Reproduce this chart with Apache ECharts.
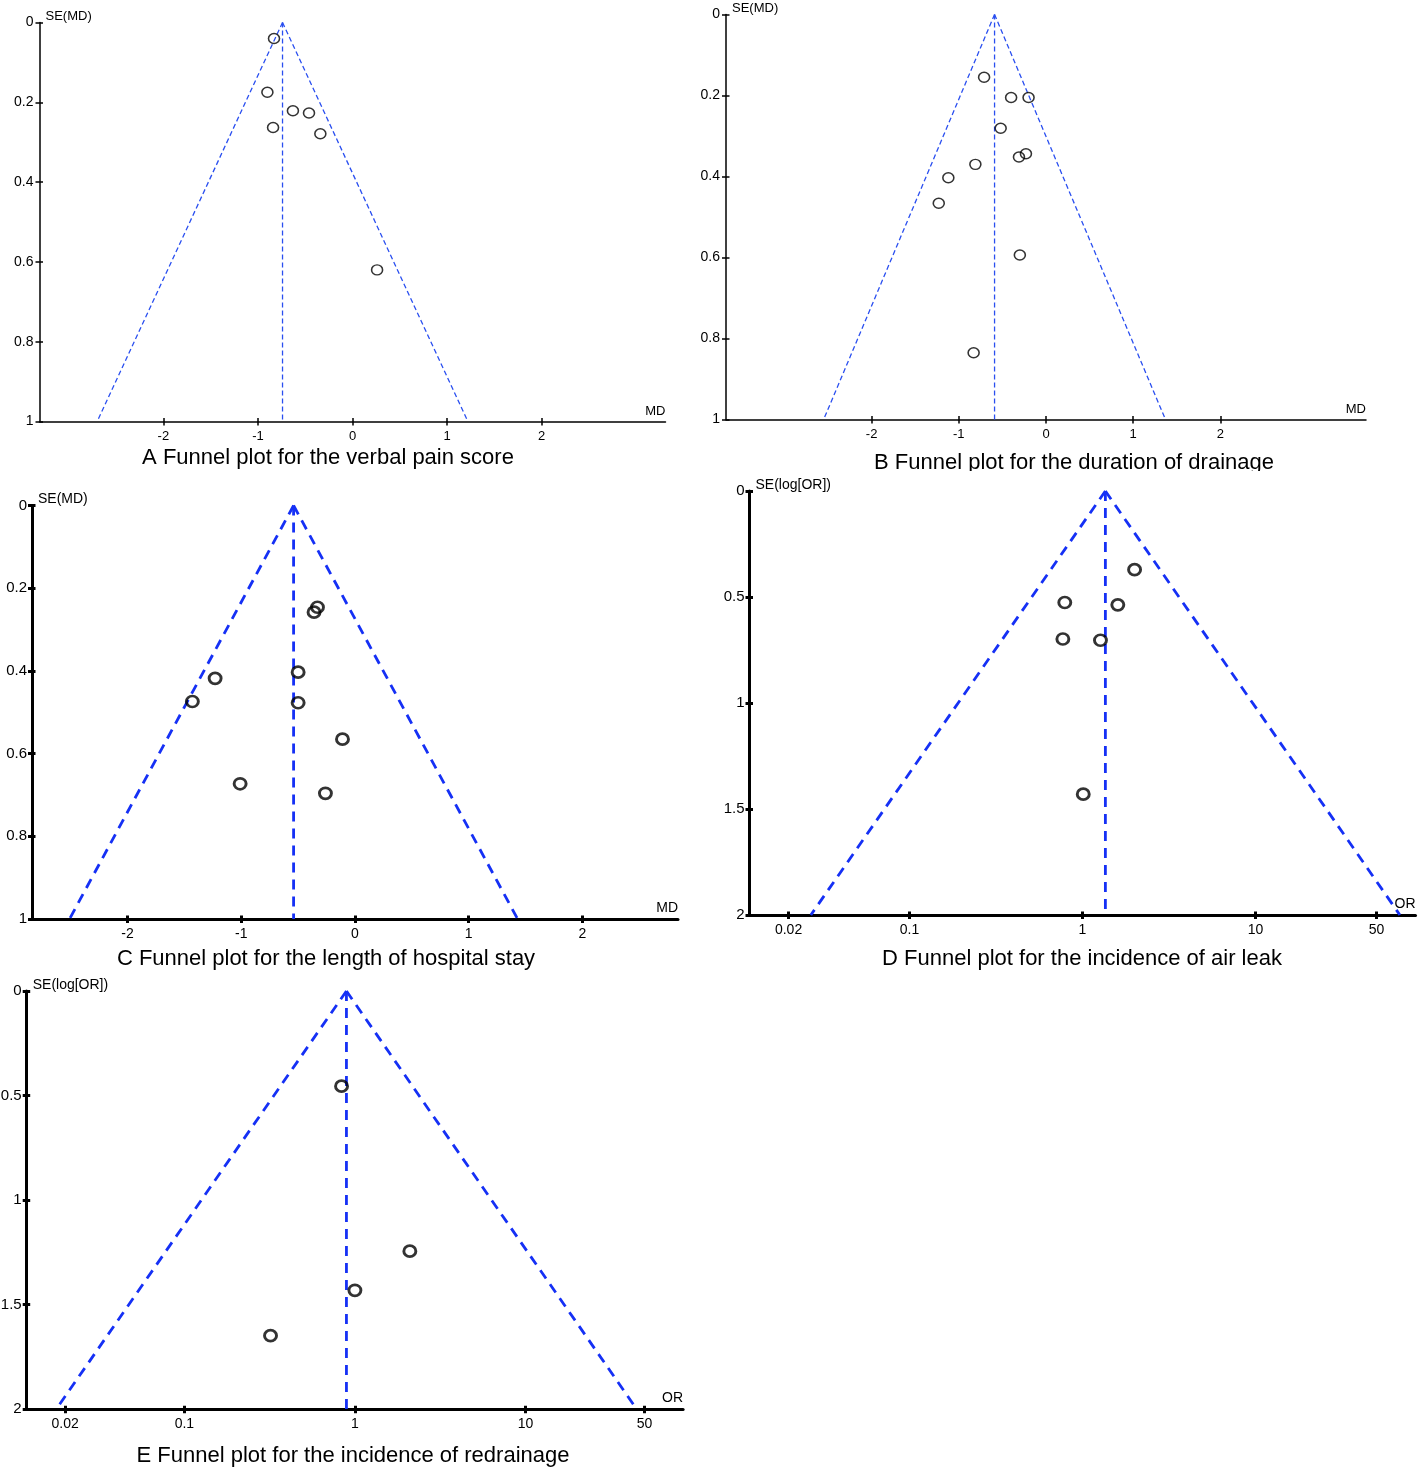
<!DOCTYPE html>
<html>
<head>
<meta charset="utf-8">
<script src="https://cdn.jsdelivr.net/npm/echarts@6/dist/echarts.min.js"></script>
<style>
html,body{margin:0;padding:0;background:#fff;}
#chart{width:1418px;height:1469px;}
</style>
</head>
<body>
<div id="chart"></div>
<script>
// ---------------- DATA ----------------
// Panel A: verbal pain score (MD vs SE(MD))
const aMD = [-0.83, -0.90, -0.63, -0.46, -0.84, -0.34, 0.26];
const aSE = [0.040, 0.175, 0.221, 0.227, 0.263, 0.279, 0.620];
const aPooled = -0.74;
const aFunnelBottom = [-2.70, 1.22];
const aXExtent = [-3.31, 3.31];

// Panel B: duration of drainage
const bMD = [-0.71, -0.40, -0.20, -0.52, -0.23, -0.31, -0.81, -1.12, -1.23, -0.30, -0.83];
const bSE = [0.155, 0.205, 0.205, 0.281, 0.344, 0.352, 0.370, 0.403, 0.466, 0.594, 0.835];
const bPooled = -0.59;
const bFunnelBottom = [-2.55, 1.37];
const bXExtent = [-3.67, 3.67];

// Panel C: length of hospital stay
const cMD = [-0.33, -0.36, -0.50, -1.23, -1.43, -0.50, -0.11, -1.01, -0.26];
const cSE = [0.246, 0.258, 0.403, 0.418, 0.474, 0.477, 0.565, 0.673, 0.696];
const cPooled = -0.54;
const cFunnelBottom = [-2.51, 1.43];
const cXExtent = [-2.84, 2.84];

// Panel D: incidence of air leak (OR vs SE(log[OR]))
const dOR = [2.00, 0.79, 1.60, 0.77, 1.27, 1.01];
const dSE = [0.371, 0.526, 0.537, 0.698, 0.704, 1.430];
const dPooled = 1.356;
const dFunnelBottom = [0.0269, 68.3];
const dXExtent = [0.01189, 84.1];

// Panel E: incidence of redrainage
const eOR = [0.835, 2.10, 1.00, 0.32];
const eSE = [0.455, 1.244, 1.431, 1.648];
const ePooled = 0.892;
const eFunnelBottom = [0.0177, 45.0];
const eXExtent = [0.01189, 84.1];

// Tick labels
const mdTicks = [-2, -1, 0, 1, 2];
const orTicks = [0.02, 0.1, 1, 10, 50];
const orTickLabels = ['0.02', '0.1', '1', '10', '50'];
const seTicksMD = [0, 0.2, 0.4, 0.6, 0.8, 1];
const seTicksOR = [0, 0.5, 1, 1.5, 2];

const titleA = 'A Funnel plot for the verbal pain score';
const titleB = 'B Funnel plot for the duration of drainage';
const titleC = 'C Funnel plot for the length of hospital stay';
const titleD = 'D Funnel plot for the incidence of air leak';
const titleE = 'E Funnel plot for the incidence of redrainage';

// ---------------- LAYOUT / STYLE ----------------
const FONT = '"Liberation Sans", Arial, Helvetica, sans-serif';
const layoutA = {left: 39.5, top: 22.5, width: 626, height: 399, titleX: 328, titleY: 458};
const layoutB = {left: 726, top: 14.5, width: 640, height: 405, titleX: 1074, titleY: 463};
const layoutC = {left: 32, top: 505.5, width: 646, height: 413.5, titleX: 326, titleY: 959};
const layoutD = {left: 749.5, top: 491, width: 666, height: 424, titleX: 1082, titleY: 959};
const layoutE = {left: 26.7, top: 991, width: 656.4, height: 418.3, titleX: 353, titleY: 1456};

const thinStyle = {axisW: 1.5, lineW: 1.3, dash: [5, 3], blue: '#2a4ff0', symW: 1.5, sym: [11, 10], xLabel: 13, yLabel: 14, yMargin: 6, name: 13};
const thickStyle = {axisW: 3, lineW: 2.8, dash: [10, 7], blue: '#1530f5', symW: 2.8, sym: [12, 11], xLabel: 14, yLabel: 15, yMargin: 5, name: 14};

const panels = [
  {xs: aMD, ys: aSE, pooled: aPooled, bottom: aFunnelBottom, xExt: aXExtent, seMax: 1, seTicks: seTicksMD, log: false, yName: 'SE(MD)', xName: 'MD', title: titleA, lay: layoutA, st: thinStyle},
  {xs: bMD, ys: bSE, pooled: bPooled, bottom: bFunnelBottom, xExt: bXExtent, seMax: 1, seTicks: seTicksMD, log: false, yName: 'SE(MD)', xName: 'MD', title: titleB, lay: layoutB, st: thinStyle},
  {xs: cMD, ys: cSE, pooled: cPooled, bottom: cFunnelBottom, xExt: cXExtent, seMax: 1, seTicks: seTicksMD, log: false, yName: 'SE(MD)', xName: 'MD', title: titleC, lay: layoutC, st: thickStyle},
  {xs: dOR, ys: dSE, pooled: dPooled, bottom: dFunnelBottom, xExt: dXExtent, seMax: 2, seTicks: seTicksOR, log: true, yName: 'SE(log[OR])', xName: 'OR', title: titleD, lay: layoutD, st: thickStyle},
  {xs: eOR, ys: eSE, pooled: ePooled, bottom: eFunnelBottom, xExt: eXExtent, seMax: 2, seTicks: seTicksOR, log: true, yName: 'SE(log[OR])', xName: 'OR', title: titleE, lay: layoutE, st: thickStyle}
];

// ---------------- BUILD OPTION ----------------
const grid = [], xAxis = [], yAxis = [], series = [], title = [];

panels.forEach((p, i) => {
  const st = p.st;
  const tx = p.log ? (v => Math.log10(v)) : (v => v);
  const xTickVals = p.log ? orTicks.map(tx) : mdTicks;
  const xFmt = p.log
    ? (v => { let best = 0, bd = Infinity; orTicks.forEach((t, k) => { const d = Math.abs(Math.log10(t) - v); if (d < bd) { bd = d; best = k; } }); return orTickLabels[best]; })
    : (v => String(Math.round(v)));
  grid.push({left: p.lay.left, top: p.lay.top, width: p.lay.width, height: p.lay.height, containLabel: false, outerBoundsMode: 'none'});

  const xMin = tx(p.xExt[0]), xMax = tx(p.xExt[1]);
  const mainX = xAxis.length;
  xAxis.push({
    gridIndex: i, type: 'value', position: 'bottom', min: xMin, max: xMax,
    axisLine: {show: true, onZero: false, lineStyle: {color: '#000', width: st.axisW}},
    axisTick: {show: true, inside: false, length: 4, customValues: xTickVals, lineStyle: {color: '#000', width: st.axisW}},
    axisLabel: {show: true, customValues: xTickVals, formatter: xFmt, margin: 8, color: '#000', fontSize: st.xLabel, fontFamily: FONT},
    splitLine: {show: false},
    name: p.xName, nameLocation: 'end', nameGap: 0,
    nameTextStyle: {align: 'right', verticalAlign: 'bottom', padding: [0, 0, 4, 0], color: '#000', fontSize: st.name, fontFamily: FONT}
  });
  // inner half of the crossing ticks
  xAxis.push({
    gridIndex: i, type: 'value', position: 'bottom', min: xMin, max: xMax,
    axisLine: {show: false, onZero: false},
    axisTick: {show: true, inside: true, length: 3.5, customValues: xTickVals, lineStyle: {color: '#000', width: st.axisW}},
    axisLabel: {show: false}, splitLine: {show: false}
  });

  const mainY = yAxis.length;
  const yInterval = p.seTicks[1] - p.seTicks[0];
  yAxis.push({
    gridIndex: i, type: 'value', position: 'left', inverse: true, min: 0, max: p.seMax, interval: yInterval,
    axisLine: {show: true, onZero: false, lineStyle: {color: '#000', width: st.axisW}},
    axisTick: {show: true, inside: false, length: 4, lineStyle: {color: '#000', width: st.axisW}},
    axisLabel: {show: true, margin: st.yMargin, color: '#000', fontSize: st.yLabel, fontFamily: FONT},
    splitLine: {show: false},
    name: p.yName, nameLocation: 'start', nameGap: 6,
    nameTextStyle: {align: 'left', verticalAlign: 'middle', padding: [0, 0, 0, 6], color: '#000', fontSize: st.name, fontFamily: FONT}
  });
  yAxis.push({
    gridIndex: i, type: 'value', position: 'left', inverse: true, min: 0, max: p.seMax, interval: yInterval,
    axisLine: {show: false, onZero: false},
    axisTick: {show: true, inside: true, length: 3.5, lineStyle: {color: '#000', width: st.axisW}},
    axisLabel: {show: false}, splitLine: {show: false}
  });

  const lineStyle = {color: st.blue, width: st.lineW, type: st.dash};
  const funnelLines = [
    [[tx(p.pooled), 0], [tx(p.bottom[0]), p.seMax]],
    [[tx(p.pooled), 0], [tx(p.bottom[1]), p.seMax]],
    [[tx(p.pooled), 0], [tx(p.pooled), p.seMax]]
  ];
  funnelLines.forEach(d => {
    series.push({type: 'line', xAxisIndex: mainX, yAxisIndex: mainY, data: d, symbol: 'none', silent: true, clip: false, lineStyle: lineStyle, z: 2});
  });
  series.push({
    type: 'scatter', xAxisIndex: mainX, yAxisIndex: mainY,
    data: p.xs.map((x, k) => [tx(x), p.ys[k]]),
    symbol: 'circle', symbolSize: st.sym, silent: true,
    itemStyle: {color: 'rgba(0,0,0,0)', borderColor: '#000', borderWidth: st.symW}, z: 3
  });

  title.push({
    text: p.title, left: p.lay.titleX, top: p.lay.titleY - 12, textAlign: 'center', padding: 0,
    textStyle: {fontSize: 22, fontWeight: 'normal', color: '#000', fontFamily: FONT, lineHeight: 24}
  });
});

const chart = echarts.init(document.getElementById('chart'), null, {renderer: 'canvas'});
chart.setOption({
  backgroundColor: '#fff',
  animation: false,
  title: title,
  grid: grid,
  xAxis: xAxis,
  yAxis: yAxis,
  series: series,
  graphic: [
    // the source figure crops the bottom of panel B's caption
    {type: 'rect', left: 860, top: 471, shape: {width: 430, height: 8}, style: {fill: '#fff'}, z: 100}
  ]
});
</script>
</body>
</html>
